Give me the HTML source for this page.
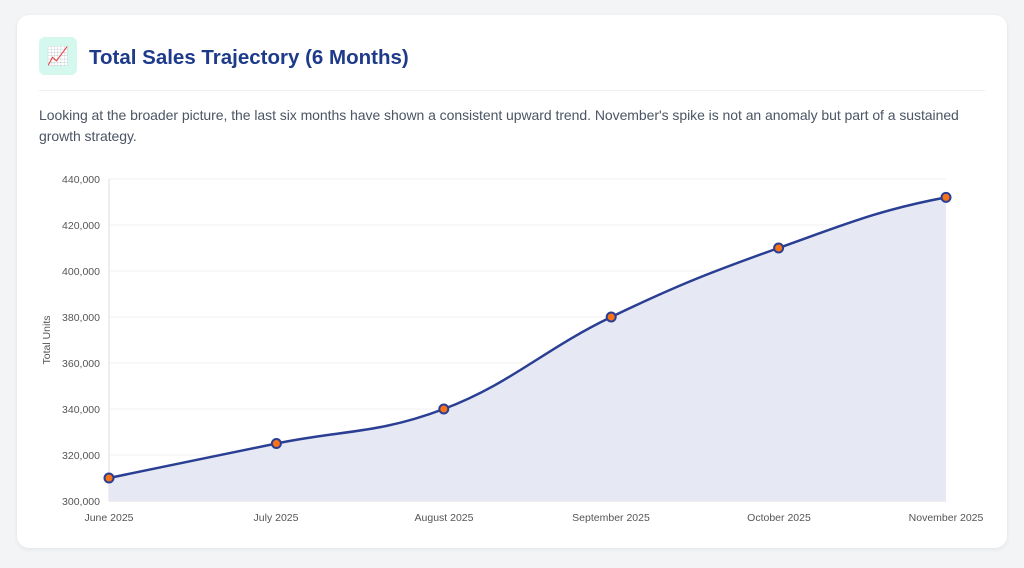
<!DOCTYPE html>
<html><head><meta charset="utf-8"><style>
body{margin:0;background:#f3f4f6;width:1024px;height:568px;overflow:hidden;font-family:"Liberation Sans",sans-serif}
.card{position:absolute;left:17px;top:15px;width:990px;height:533px;background:#fff;border-radius:12px;box-shadow:0 1px 4px rgba(0,0,0,.08)}
.icon{position:absolute;left:22px;top:22px;width:38px;height:38px;background:#d4f7ee;border-radius:6px;font-size:18px;text-align:center;line-height:38px}
.title{position:absolute;left:72px;top:31px;font-size:20.5px;font-weight:bold;color:#1e3a8a;letter-spacing:0}
.hr{position:absolute;left:22px;right:22px;top:75px;border-top:1px solid #eceef1}
.p{position:absolute;left:22px;top:90px;width:960px;font-size:14px;line-height:21px;color:#4b5563;letter-spacing:-0.05px}
</style></head><body>
<div class="card">
<div class="icon">📈</div>
<div class="title">Total Sales Trajectory (6 Months)</div>
<div class="hr"></div>
<div class="p">Looking at the broader picture, the last six months have shown a consistent upward trend. November's spike is not an anomaly but part of a sustained growth strategy.</div>
</div>
<svg width="1024" height="568" style="position:absolute;left:0;top:0" font-family="Liberation Sans, sans-serif">
<g stroke="#f0f0f0" stroke-width="1">
<line x1="109" x2="946" y1="179" y2="179"/><line x1="109" x2="946" y1="225" y2="225"/><line x1="109" x2="946" y1="271" y2="271"/><line x1="109" x2="946" y1="317" y2="317"/><line x1="109" x2="946" y1="363" y2="363"/><line x1="109" x2="946" y1="409" y2="409"/><line x1="109" x2="946" y1="455" y2="455"/>
</g>
<line x1="109" x2="109" y1="179" y2="501" stroke="#ddd"/>
<line x1="109" x2="946" y1="501" y2="501" stroke="#ddd"/>
<g font-size="10.5" fill="#555" text-anchor="end">
<text x="100" y="183">440,000</text><text x="100" y="229">420,000</text><text x="100" y="275">400,000</text><text x="100" y="321">380,000</text><text x="100" y="367">360,000</text><text x="100" y="413">340,000</text><text x="100" y="459">320,000</text><text x="100" y="505">300,000</text>
</g>
<g font-size="10.5" fill="#555" text-anchor="middle">
<text x="109" y="521">June 2025</text><text x="276" y="521">July 2025</text><text x="444" y="521">August 2025</text><text x="611" y="521">September 2025</text><text x="779" y="521">October 2025</text><text x="946" y="521">November 2025</text>
</g>
<text transform="translate(50,340) rotate(-90)" font-size="10.5" fill="#555" text-anchor="middle">Total Units</text>
<path d="M109,478 C176,464 209.4,457.3 276.4,443.5 C343.4,429.7 376.8,434.3 443.8,409 C510.8,383.7 544.2,349.2 611.2,317 C678.2,284.8 711.6,271.9 778.6,248 C845.6,224.1 879,210 946,197.4 L946,501 L109,501 Z" fill="#e6e9f4"/>
<path d="M109,478 C176,464 209.4,457.3 276.4,443.5 C343.4,429.7 376.8,434.3 443.8,409 C510.8,383.7 544.2,349.2 611.2,317 C678.2,284.8 711.6,271.9 778.6,248 C845.6,224.1 879,210 946,197.4" fill="none" stroke="#2a3f94" stroke-width="2.5"/>
<g fill="#f97316" stroke="#2a3f94" stroke-width="2">
<circle cx="109" cy="478" r="4.5"/><circle cx="276.4" cy="443.5" r="4.5"/><circle cx="443.8" cy="409" r="4.5"/><circle cx="611.2" cy="317" r="4.5"/><circle cx="778.6" cy="248" r="4.5"/><circle cx="946" cy="197.4" r="4.5"/>
</g>
</svg>
</body></html>
